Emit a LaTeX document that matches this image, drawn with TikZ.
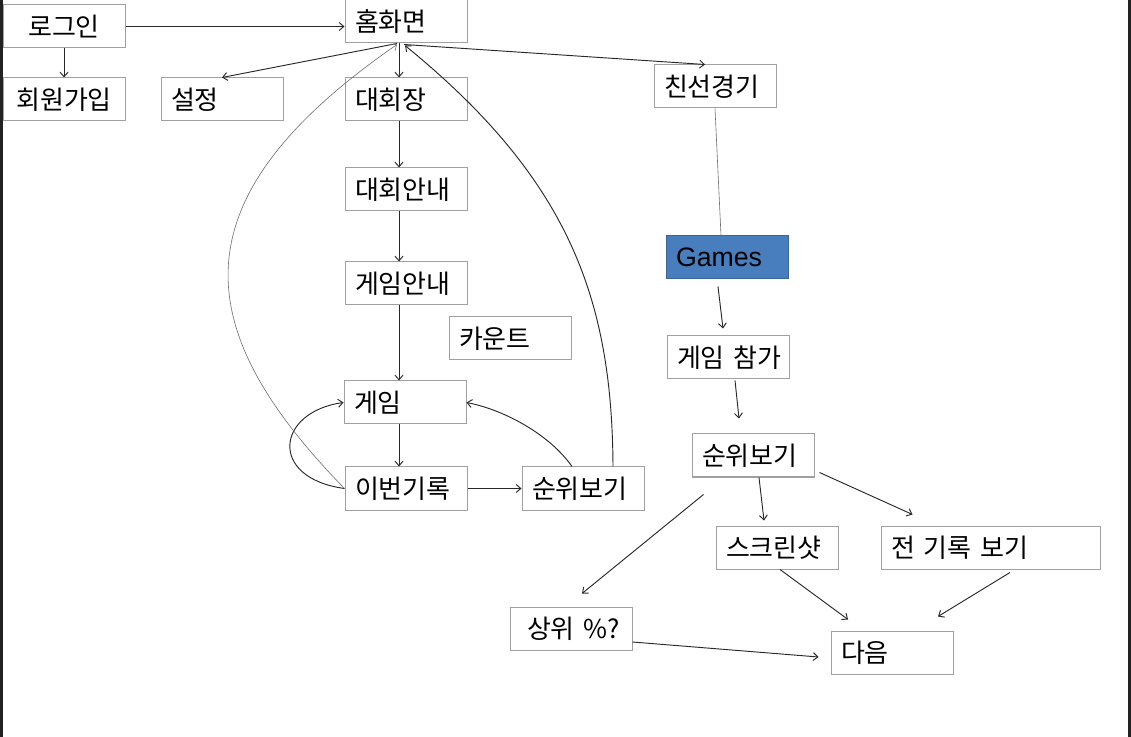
\documentclass[tikz,border=0pt]{standalone}
\usepackage{fontspec}
\setmainfont{Noto Sans CJK KR}
\newfontfamily\latinsans{Liberation Sans}
\usetikzlibrary{arrows.meta,calc}
\definecolor{boxgray}{RGB}{160,160,160}
\definecolor{linkdark}{RGB}{40,40,40}
\definecolor{linkgray}{RGB}{110,110,110}
\definecolor{gamesblue}{RGB}{72,126,189}
\definecolor{gamesedge}{RGB}{60,100,150}
\definecolor{edgeband}{RGB}{34,34,34}
\tikzset{
  framed/.style={draw=boxgray, line width=0.75pt, minimum height=32.25pt,
    text width=83.5pt, inner xsep=4pt, inner ysep=0pt,
    font=\fontsize{19.5}{22}\selectfont},
  box/.style={framed, align=left, execute at begin node={\hspace*{3.5pt}}},
  cbox/.style={framed, align=center},
  widebox/.style={box, text width=156.25pt},
  link/.style={draw=linkdark, line width=0.7pt,
    -{Straight Barb[length=3.5pt,width=6pt]}},
  backlink/.style={link, draw=linkgray, line width=0.45pt},
  plainlink/.style={draw=linkgray, line width=0.45pt}
}
\begin{document}
\begin{tikzpicture}[x=0.75pt,y=-0.75pt]
  \useasboundingbox (0,0) rectangle (1131,737);
  \fill[white] (0,0) rectangle (1131,737);
  \fill[edgeband] (0,0) rectangle (2.5,737);
  \fill[edgeband] (1128,0) rectangle (1131,737);

  % screens
  \node[cbox] (login)    at (64,26.5)   {로그인};
  \node[cbox] (signup)   at (64,99.5)   {회원가입};
  \node[box]  (settings) at (222,99.5)  {설정};
  \node[box]  (home)     at (406,21.5)  {홈화면};
  \node[box]  (hall)     at (406,99.5)  {대회장};
  \node[box]  (friendly) at (715,86.5)  {친선경기};
  \node[box]  (hallinfo) at (406,189.5) {대회안내};
  \node[box]  (gameinfo) at (406,283.5) {게임안내};
  \node[box]  (count)    at (510,338.5) {카운트};
  \node[box]  (game)     at (405,402.5) {게임};
  \node[box]  (record)   at (406,488.5) {이번기록};
  \node[box]  (rankL)    at (583,488.5) {순위보기};
  \node[box, fill=gamesblue, draw=gamesedge] (games) at (727,257.5)
       {\latinsans\fontsize{20}{22}\selectfont Games};
  \node[box]  (join)     at (728,357.5) {게임 참가};
  \node[box]  (rankR)    at (753,455.5) {순위보기};
  \node[box]  (shot)     at (777,547.5) {스크린샷};
  \node[widebox] (allrec) at (990.5,547.5) {전 기록 보기};
  \node[box]  (toppct)   at (571,628.5) {\hspace*{5.25pt}상위 \%?};
  \node[box]  (next)     at (892,652.5) {다음};

  % login and home menu
  \draw[link] (login.east) -- (login.east -| home.west);
  \draw[link] (login.south) -- (signup.north);
  \draw[link] ($(home.south)+(-9,0)$) -- (settings.north);
  \draw[link] ($(home.south)+(-7,0)$) -- ($(hall.north)+(-7,0)$);
  \draw[link] ($(home.south)+(-2,1)$) -- ($(friendly.north)+(-10,0)$);

  % tournament flow
  \draw[link] ($(hall.south)+(-7,0)$) -- ($(hallinfo.north)+(-7,0)$);
  \draw[link] ($(hallinfo.south)+(-7,0)$) -- ($(gameinfo.north)+(-7,0)$);
  \draw[link] ($(gameinfo.south)+(-7,0)$) -- ($(game.north)+(-6,0)$);
  \draw[link] ($(game.south)+(-6,0)$) -- ($(record.north)+(-7,0)$);
  \draw[link] (record.east) -- (rankL.west);
  \draw[link] (record.west) .. controls (268,478) and (276,412) .. (game.west);
  \draw[backlink] (record.west) .. controls (190,330) and (172,200) .. ($(home.south)+(-9,1)$);
  \draw[link] ($(rankL.north)+(30,0)$) .. controls (612,300) and (570,180) .. ($(home.south)+(-1,2)$);
  \draw[link] ($(rankL.north)+(-11,0)$) .. controls (550,435) and (505,410) .. (game.east);

  % friendly match flow
  \draw[plainlink] (friendly.south) -- ($(games.north)+(-6,0)$);
  \draw[link] ($(games.south)+(-9,7)$) -- ($(join.north)+(-5,-7)$);
  \draw[link] ($(join.south)+(7,1)$) -- ($(rankR.north)+(-14,-15)$);
  \draw[link] ($(rankR.south)+(6,0)$) -- ($(shot.north)+(-13,-5)$);
  \draw[link] ($(rankR.south east)+(5,-5)$) -- ($(allrec.north)+(-78,-11)$);
  \draw[link] ($(rankR.south west)+(12,17)$) -- ($(toppct.north)+(11,-13)$);
  \draw[link] ($(shot.south)+(3,0)$) -- ($(next.north)+(-44,-11)$);
  \draw[link] ($(allrec.south)+(19.5,3)$) -- ($(next.north)+(46,-14)$);
  \draw[link] ($(toppct.east)+(0,13.5)$) -- ($(next.west)+(-12,4.5)$);
\end{tikzpicture}
\end{document}
